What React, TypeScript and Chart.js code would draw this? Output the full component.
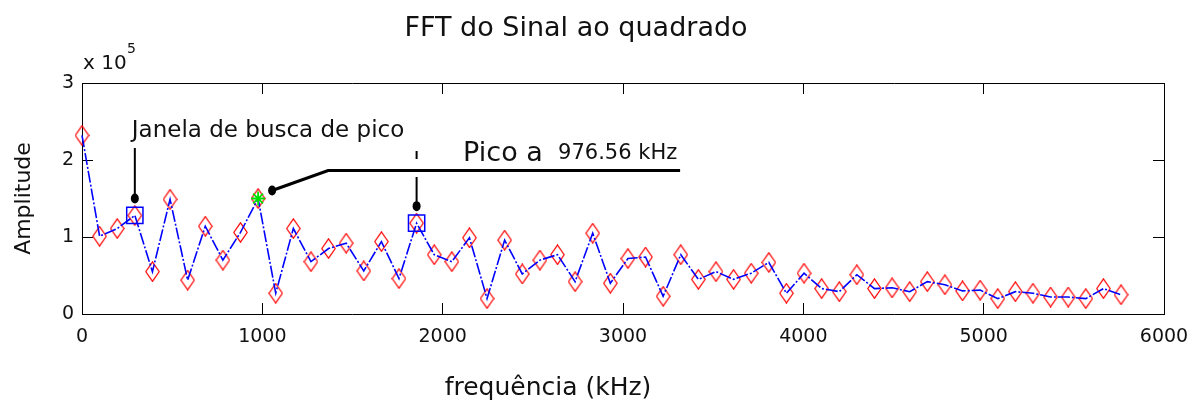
import React, { useEffect, useRef } from 'react';
import { Chart, registerables } from 'chart.js';

Chart.register(...registerables);

// ---- data ----
const frequencies = [
  0, 97.66, 195.31, 292.97, 390.63, 488.28, 585.94, 683.59, 781.25, 878.91,
  976.56, 1074.22, 1171.88, 1269.53, 1367.19, 1464.84, 1562.5, 1660.16, 1757.81, 1855.47,
  1953.13, 2050.78, 2148.44, 2246.09, 2343.75, 2441.41, 2539.06, 2636.72, 2734.38, 2832.03,
  2929.69, 3027.34, 3125, 3222.66, 3320.31, 3417.97, 3515.63, 3613.28, 3710.94, 3808.59,
  3906.25, 4003.91, 4101.56, 4199.22, 4296.88, 4394.53, 4492.19, 4589.84, 4687.5, 4785.16,
  4882.81, 4980.47, 5078.13, 5175.78, 5273.44, 5371.09, 5468.75, 5566.41, 5664.06, 5761.72,
];

const amplitudes = [
  232000, 101000, 111000, 128000, 55000, 149000, 44000, 114000, 70000, 106000,
  150000, 27000, 111000, 68000, 85000, 92000, 56000, 94000, 46000, 118000,
  77000, 68000, 99000, 20000, 96000, 52000, 70000, 77000, 42000, 105000,
  40000, 72000, 74000, 23000, 77000, 45000, 55000, 45000, 53000, 67000,
  27000, 53000, 33000, 29000, 51000, 33000, 34000, 29000, 42000, 38000,
  30000, 31000, 20000, 29000, 27000, 22000, 22000, 20000, 33000, 25000,
];

const windowIdx = [3, 19];
const peakIdx = 10;

const xTickValues = [0, 1000, 2000, 3000, 4000, 5000, 6000];
const xTickLabels = ['0', '1000', '2000', '3000', '4000', '5000', '6000'];
const yTickValues = [0, 100000, 200000, 300000];
const yTickLabels = ['0', '1', '2', '3'];

const titleText = 'FFT do Sinal ao quadrado';
const xLabel = 'frequência (kHz)';
const yLabel = 'Amplitude';
const windowLabel = 'Janela de busca de pico';
const peakLabel = 'Pico a';
const peakUnit = 'kHz';

const FONT = '"DejaVu Sans", "Liberation Sans", Arial, sans-serif';
const TEXT = '#111';

function makeDiamond(): HTMLCanvasElement {
  const c = document.createElement('canvas');
  c.width = 15;
  c.height = 21;
  const g = c.getContext('2d')!;
  g.strokeStyle = '#ff0000';
  g.lineWidth = 1.2;
  g.beginPath();
  g.moveTo(7.5, 0.8);
  g.lineTo(14.2, 10.5);
  g.lineTo(7.5, 20.2);
  g.lineTo(0.8, 10.5);
  g.closePath();
  g.stroke();
  return c;
}

const annotPlugin = {
  id: 'annot',
  afterDraw(chart: any) {
    const ctx: CanvasRenderingContext2D = chart.ctx;
    const xs = chart.scales.x;
    const ys = chart.scales.y;
    const ca = chart.chartArea;
    ctx.save();
    ctx.fillStyle = TEXT;
    ctx.strokeStyle = '#000';
    ctx.textBaseline = 'alphabetic';

    // title
    ctx.font = `27px ${FONT}`;
    ctx.textAlign = 'center';
    ctx.fillText(titleText, ca.left + 494, 36);

    // x label
    ctx.font = `25px ${FONT}`;
    ctx.fillText(xLabel, ca.left + 466, 395);

    // exponent
    ctx.textAlign = 'left';
    ctx.font = `20px ${FONT}`;
    ctx.fillText('x 10', ca.left + 1, ca.top - 14);
    ctx.font = `14px ${FONT}`;
    ctx.fillText('5', ca.left + 45, ca.top - 30);

    ctx.fillStyle = '#000';
    // window markers
    const w0x = xs.getPixelForValue(frequencies[windowIdx[0]]);
    const w0y = ys.getPixelForValue(amplitudes[windowIdx[0]]);
    const w1x = xs.getPixelForValue(frequencies[windowIdx[1]]);
    const w1y = ys.getPixelForValue(amplitudes[windowIdx[1]]);
    const topY = ca.top + 65;

    ctx.lineWidth = 2;
    ctx.beginPath();
    ctx.moveTo(w0x, topY);
    ctx.lineTo(w0x, w0y - 17);
    ctx.stroke();
    ctx.beginPath();
    ctx.ellipse(w0x, w0y - 17, 4, 5, 0, 0, Math.PI * 2);
    ctx.fill();

    ctx.beginPath();
    ctx.moveTo(w1x, topY + 3);
    ctx.lineTo(w1x, topY + 11);
    ctx.stroke();
    ctx.beginPath();
    ctx.moveTo(w1x, topY + 29);
    ctx.lineTo(w1x, w1y - 17);
    ctx.stroke();
    ctx.beginPath();
    ctx.ellipse(w1x, w1y - 17, 4, 5, 0, 0, Math.PI * 2);
    ctx.fill();

    // peak pointer
    const px = xs.getPixelForValue(frequencies[peakIdx]);
    const py = ys.getPixelForValue(amplitudes[peakIdx]);
    ctx.lineWidth = 3;
    ctx.beginPath();
    ctx.moveTo(px + 14, py - 8);
    ctx.lineTo(px + 70, py - 28);
    ctx.lineTo(px + 422, py - 28);
    ctx.stroke();
    ctx.beginPath();
    ctx.ellipse(px + 14, py - 8, 4, 5, 0, 0, Math.PI * 2);
    ctx.fill();

    // texts
    ctx.fillStyle = TEXT;
    ctx.font = `23px ${FONT}`;
    ctx.fillText(windowLabel, w0x - 3, ca.top + 54);
    ctx.font = `27px ${FONT}`;
    ctx.fillText(peakLabel, px + 205, py - 38);
    ctx.font = `21px ${FONT}`;
    ctx.fillText(`${frequencies[peakIdx].toFixed(2)} ${peakUnit}`, px + 300, py - 40);

    ctx.restore();
  },
};

export default function App() {
  const ref = useRef<HTMLCanvasElement | null>(null);

  useEffect(() => {
    if (!ref.current) return;
    const diamond = makeDiamond();
    const pts = frequencies.map((f, i) => ({ x: f, y: amplitudes[i] }));
    const winPts = windowIdx.map((i) => ({ x: frequencies[i], y: amplitudes[i] }));
    const peakPts = [{ x: frequencies[peakIdx], y: amplitudes[peakIdx] }];

    const tickGrid = {
      drawOnChartArea: false,
      drawTicks: true,
      tickLength: -11,
      color: '#000',
      lineWidth: 1,
    };
    const border = { display: true, color: '#000', width: 1 };
    const zeroPad = (s: any) => {
      s.paddingLeft = 0;
      s.paddingRight = 0;
      s.paddingTop = 0;
      s.paddingBottom = 0;
    };

    const chart = new Chart(ref.current, {
      type: 'scatter',
      data: {
        datasets: [
          {
            label: 'pico',
            data: peakPts,
            pointStyle: 'star',
            pointRadius: 7,
            borderColor: '#00e000',
            backgroundColor: '#00e000',
            borderWidth: 1.8,
            showLine: false,
            clip: false,
          },
          {
            label: 'janela',
            data: winPts,
            pointStyle: 'rect',
            pointRadius: 11.5,
            borderColor: '#0000ff',
            backgroundColor: 'rgba(0,0,0,0)',
            borderWidth: 1.5,
            showLine: false,
            clip: false,
          },
          {
            label: 'linha',
            data: pts,
            showLine: true,
            borderColor: '#0000ff',
            borderWidth: 1.6,
            borderDash: [12, 2, 2, 2],
            pointRadius: 0,
            tension: 0,
            clip: false,
          },
          {
            label: 'fft',
            data: pts,
            showLine: false,
            pointStyle: diamond,
            pointRadius: 8,
            clip: false,
          },
        ],
      },
      options: {
        animation: false,
        responsive: false,
        devicePixelRatio: 1,
        events: [],
        layout: { padding: { top: 83, right: 35, bottom: 0, left: 0 } },
        font: { family: FONT },
        plugins: {
          legend: { display: false },
          tooltip: { enabled: false },
          title: { display: false },
        },
        scales: {
          x: {
            type: 'linear',
            position: 'bottom',
            min: 0,
            max: 6000,
            afterBuildTicks: (s: any) => {
              s.ticks = xTickValues.map((v) => ({ value: v }));
            },
            afterFit: (s: any) => {
              s.height = 102;
              zeroPad(s);
            },
            ticks: {
              autoSkip: false,
              maxRotation: 0,
              padding: 23,
              color: TEXT,
              font: { family: FONT, size: 19 },
              callback: (v: any) => {
                const i = xTickValues.indexOf(Number(v));
                return i >= 0 ? xTickLabels[i] : '';
              },
            },
            grid: tickGrid,
            border,
          },
          x2: {
            type: 'linear',
            position: 'top',
            min: 0,
            max: 6000,
            afterBuildTicks: (s: any) => {
              s.ticks = xTickValues.map((v) => ({ value: v }));
            },
            afterFit: (s: any) => {
              s.height = 0;
              zeroPad(s);
            },
            ticks: { display: false },
            grid: tickGrid,
            border,
          },
          y: {
            type: 'linear',
            position: 'left',
            min: 0,
            max: 300000,
            afterBuildTicks: (s: any) => {
              s.ticks = yTickValues.map((v) => ({ value: v }));
            },
            afterFit: (s: any) => {
              s.width = 82;
              zeroPad(s);
            },
            ticks: {
              padding: 19,
              color: TEXT,
              font: { family: FONT, size: 19 },
              callback: (v: any) => {
                const i = yTickValues.indexOf(Number(v));
                return i >= 0 ? yTickLabels[i] : '';
              },
            },
            title: {
              display: true,
              text: yLabel,
              color: TEXT,
              font: { family: FONT, size: 22 },
              padding: { top: 11, bottom: 0 },
            },
            grid: tickGrid,
            border,
          },
          y2: {
            type: 'linear',
            position: 'right',
            min: 0,
            max: 300000,
            afterBuildTicks: (s: any) => {
              s.ticks = yTickValues.map((v) => ({ value: v }));
            },
            afterFit: (s: any) => {
              s.width = 0;
              zeroPad(s);
            },
            ticks: { display: false },
            grid: tickGrid,
            border,
          },
        },
      },
      plugins: [annotPlugin],
    } as any);

    return () => chart.destroy();
  }, []);

  return (
    <div style={{ position: 'absolute', left: 0, top: 0, width: 1199, height: 416, background: '#fff' }}>
      <canvas ref={ref} width={1199} height={416} style={{ display: 'block' }} />
    </div>
  );
}
